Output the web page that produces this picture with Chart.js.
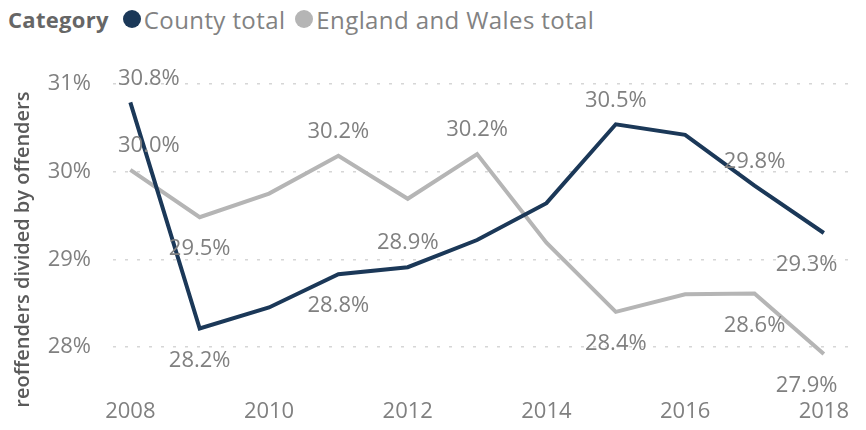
<!DOCTYPE html>
<html>
<head>
<meta charset="utf-8">
<script src="https://cdn.jsdelivr.net/npm/chart.js@4.4.1/dist/chart.umd.min.js"></script>
<style>
  body { margin: 0; background: #fff; font-family: 'Open Sans', sans-serif; }
  #legend { position: absolute; left: 8px; top: 0; height: 38px; display: flex; align-items: center; font-size: 24px; letter-spacing: 0.4px; color: #828282; white-space: nowrap; }
  #legend b { color: #666; font-weight: 700; font-size: 22px; letter-spacing: 0.3px; margin-right: 14px; }
  #legend .dot { display: inline-block; width: 18px; height: 18px; border-radius: 50%; margin-right: 3px; }
  #legend .item { display: flex; align-items: center; margin-right: 10px; }
  #wrap { position: absolute; left: 0; top: 40px; width: 866px; height: 390px; }
</style>
</head>
<body>
<div id="legend">
  <b>Category</b>
  <span class="item"><span class="dot" style="background:#1b3858"></span>County total</span>
  <span class="item"><span class="dot" style="background:#b5b5b5"></span>England and Wales total</span>
</div>
<div id="wrap"><canvas id="reoffChart"></canvas></div>
<script>
// data
const years = [2008, 2009, 2010, 2011, 2012, 2013, 2014, 2015, 2016, 2017, 2018];
const countyTotal = [30.79, 28.21, 28.45, 28.83, 28.91, 29.22, 29.64, 30.54, 30.42, 29.84, 29.30];
const englandWalesTotal = [30.02, 29.48, 29.75, 30.18, 29.69, 30.20, 29.19, 28.40, 28.60, 28.61, 27.92];
const xTicks = [2008, 2010, 2012, 2014, 2016, 2018];
const yTicks = [28, 29, 30, 31];
// which points show a value label, and on which side
const countyLabels = ['above', 'below', null, 'below', 'above', null, null, 'above', null, 'above', 'below'];
const englandWalesLabels = ['above', 'below', null, 'above', null, 'above', null, 'below', null, 'below', 'below'];
const yTitle = 'reoffenders divided by offenders';

const FONT = "'Open Sans', sans-serif";
const TEXT_GREY = '#808080';

// value labels next to the points + the y axis title
const valueLabels = {
  id: 'valueLabels',
  afterDatasetsDraw(chart) {
    const ctx = chart.ctx;
    const area = chart.chartArea;
    ctx.save();
    ctx.font = '22px ' + FONT;
    ctx.fillStyle = TEXT_GREY;
    ctx.textAlign = 'center';
    ctx.textBaseline = 'middle';
    chart.data.datasets.forEach((ds, i) => {
      const meta = chart.getDatasetMeta(i);
      ds.labelSides.forEach((side, j) => {
        if (!side) return;
        const pt = meta.data[j];
        const txt = ds.data[j].y.toFixed(1) + '%';
        const w = ctx.measureText(txt).width;
        let x = pt.x;
        x = Math.max(x, area.left + 5 + w / 2);
        x = Math.min(x, area.right - 12 - w / 2);
        const y = side === 'above' ? pt.y - 24 : pt.y + 32;
        ctx.fillText(txt, x, y);
      });
    });
    // y axis title, centred on the whole axis height
    ctx.translate(23, (area.top + chart.height) / 2 - 3);
    ctx.rotate(-Math.PI / 2);
    ctx.font = '600 20px ' + FONT;
    ctx.fillStyle = '#5a5a5a';
    ctx.fillText(yTitle, 0, 0);
    ctx.restore();
  }
};

const toPoints = (vals) => vals.map((v, i) => ({ x: years[i], y: v }));

const ctx = document.getElementById('reoffChart').getContext('2d');
new Chart(ctx, {
  type: 'line',
  data: {
    datasets: [
      {
        label: 'County total',
        data: toPoints(countyTotal),
        labelSides: countyLabels,
        borderColor: '#1b3858',
        borderWidth: 4,
        pointRadius: 0,
        tension: 0
      },
      {
        label: 'England and Wales total',
        data: toPoints(englandWalesTotal),
        labelSides: englandWalesLabels,
        borderColor: '#b5b5b5',
        borderWidth: 4,
        pointRadius: 0,
        tension: 0
      }
    ]
  },
  options: {
    responsive: true,
    maintainAspectRatio: false,
    animation: false,
    layout: { padding: { top: 19, left: 0, right: 0, bottom: 0 } },
    plugins: {
      legend: { display: false },
      tooltip: { enabled: false }
    },
    scales: {
      x: {
        type: 'linear',
        min: 2007.75,
        max: 2018.37,
        grid: { display: false, drawTicks: false },
        border: { display: false },
        afterBuildTicks: (s) => { s.ticks = xTicks.map(v => ({ value: v })); },
        afterFit: (s) => { s.height = 48; },
        ticks: {
          color: TEXT_GREY,
          font: { family: FONT, size: 22 },
          padding: 17,
          maxRotation: 0,
          callback: (v) => String(v)
        }
      },
      y: {
        min: 27.6,
        max: 31.1,
        grid: { color: '#d6d6d6', lineWidth: 1.5, drawTicks: false },
        border: { display: false, dash: [3, 9] },
        afterBuildTicks: (s) => { s.ticks = yTicks.map(v => ({ value: v })); },
        afterFit: (s) => { s.width = 113; },
        ticks: {
          color: TEXT_GREY,
          font: { family: FONT, size: 22 },
          padding: 22,
          callback: (v) => v + '%'
        }
      }
    }
  },
  plugins: [valueLabels]
});
</script>
</body>
</html>
